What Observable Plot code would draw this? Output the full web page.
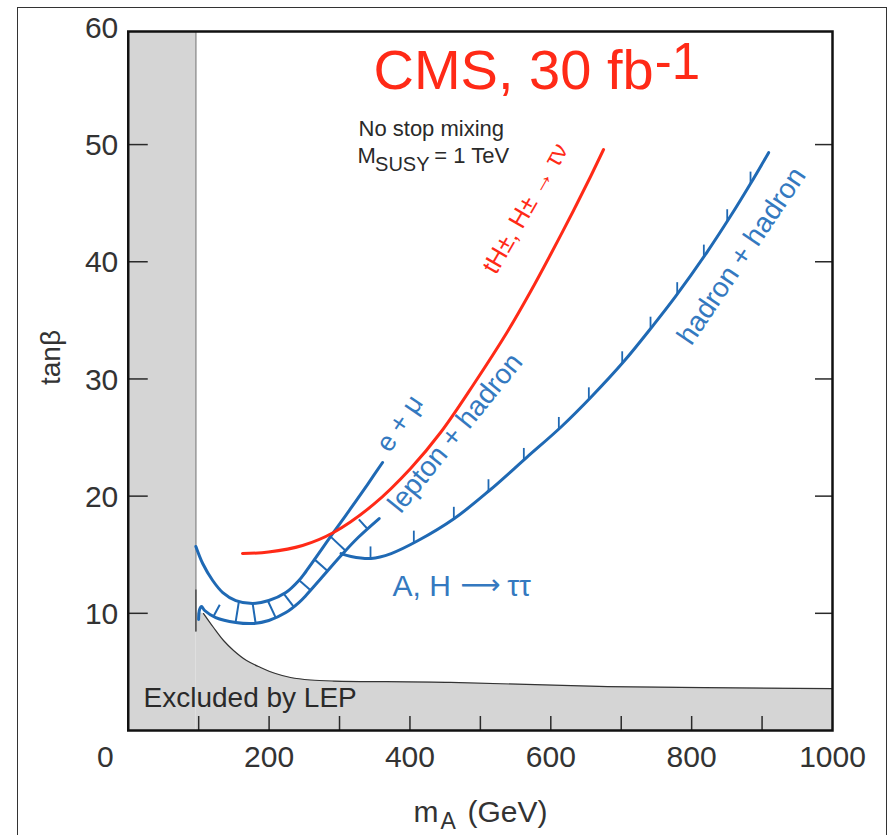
<!DOCTYPE html>
<html><head><meta charset="utf-8">
<script src="https://cdn.jsdelivr.net/npm/d3@7"></script>
<script src="https://cdn.jsdelivr.net/npm/@observablehq/plot@0.6"></script>
<style>
html,body{margin:0;padding:0;background:#fff;}
#wrap{position:relative;width:888px;height:835px;overflow:hidden;}
#chart{position:absolute;left:0;top:0;}
#border{position:absolute;left:17px;top:7px;width:868px;height:850px;border:1.5px solid #333;pointer-events:none;}
</style></head><body>
<div id="wrap"><div id="chart"></div><div id="border"></div></div>
<script>
// ---------- data ----------
const xTickLabels = [200, 400, 600, 800, 1000];
const xZeroLabel = [0];
const xTickMarks = [100, 200, 300, 400, 500, 600, 700, 800, 900];
const yTickLabels = [10, 20, 30, 40, 50, 60];
const yTickMarks = [10, 20, 30, 40, 50];

// LEP exclusion: vertical band limit in m_A and the lower tanβ boundary
const lepLimitM = 96;
const lepBandEdgeLow = 8.4;
const lepM  = [96, 106.9, 121.1, 135.3, 149.5, 168.0, 187.9, 209.1, 230.4, 258.8, 291.5, 457.6, 680.8, 1000];
const lepTb = [10.0, 9.98, 8.79, 7.68, 6.83, 5.97, 5.38, 4.86, 4.52, 4.31, 4.22, 4.10, 3.75, 3.57];

// e + mu
const eMuM  = [96, 105.7, 119.9, 134.2, 152.7, 176.9, 199.6, 223.8, 242.3, 252.3, 291.5, 315.9, 339.7, 361.1];
const eMuTb = [15.7, 14.25, 12.8, 11.77, 11.09, 10.84, 11.09, 11.77, 12.8, 13.57, 16.90, 18.95, 20.99, 22.87];

// lepton + hadron (with the small hook at its start)
const lepHadM  = [99.9, 101.3, 104.1, 108.5, 124.2, 152.7, 176.9, 199.6, 223.8, 242.3, 252.3, 273.6, 302.2, 326.4, 356.3];
const lepHadTb = [9.47, 10.32, 10.58, 10.24, 9.64, 9.22, 9.13, 9.39, 10.07, 10.92, 11.52, 12.97, 14.93, 16.47, 18.09];
const lepHadHatchM = [121.1, 152.4, 180.8, 209.2, 234.8, 258.9, 283.1, 308.6, 339.8];

// hadron + hadron
const hadHadM  = [302.2, 316.4, 344.8, 373.3, 411.7, 463.0, 512.8, 565.5, 615.3, 658.0, 703.6, 744.6, 777.2, 822.6, 855.3, 883.7, 909.3];
const hadHadTb = [15.10, 14.85, 14.68, 15.10, 16.21, 18.09, 20.48, 23.29, 25.94, 28.50, 31.48, 34.51, 37.04, 40.89, 43.90, 46.68, 49.31];
const hadHadHatchM = [344.0, 405.5, 462.3, 511.5, 561.7, 611.4, 654.0, 701.4, 741.6, 779.5, 817.3, 850.5, 883.6];

// tH±, H± -> τν
const chargedM  = [162.2, 199.2, 247.5, 291.5, 348.3, 400.9, 443.5, 490.3, 538.6, 571.3, 599.7, 632.3, 656.5, 674.9];
const chargedTb = [15.10, 15.23, 15.79, 16.90, 19.29, 22.36, 25.43, 29.53, 34.05, 37.46, 40.62, 44.38, 47.28, 49.58];

// ---------- layout ----------
const W = 888, H = 835, ML = 127.75, MR = 56, MT = 31, MB = 105;
const X_DOMAIN = [0, 1000], Y_DOMAIN = [0, 59.65];
const FONT = "'Liberation Sans', Arial, Helvetica, sans-serif";
const ARROW_FONT = "'DejaVu Sans', sans-serif";
const BLUE = "#1f69b4", BLUE_TXT = "#3479c0", RED = "#ff2a17", GRAY = "#d5d5d5", INK = "#2a2a2a";

const zip = (ms, ts) => ms.map((m, i) => ({m, t: ts[i]}));
const lep = zip(lepM, lepTb), eMu = zip(eMuM, eMuTb), lepHad = zip(lepHadM, lepHadTb),
      hadHad = zip(hadHadM, hadHadTb), charged = zip(chargedM, chargedTb);

const base = {width: W, height: H, marginLeft: ML, marginRight: MR, marginTop: MT, marginBottom: MB,
  x: {domain: X_DOMAIN, axis: null}, y: {domain: Y_DOMAIN, axis: null}};

// probe plot to obtain the library's own scales
const probe = Plot.plot({...base, marks: [Plot.line(lep, {x: "m", y: "t"})]});
const sx = probe.scale("x"), sy = probe.scale("y");
const kx = (W - ML - MR) / (X_DOMAIN[1] - X_DOMAIN[0]), ky = (H - MT - MB) / (Y_DOMAIN[1] - Y_DOMAIN[0]);
const fx = v => sx && sx.apply ? sx.apply(v) : ML + v * kx;
const fy = v => sy && sy.apply ? sy.apply(v) : H - MB - v * ky;
const ix = p => sx && sx.invert ? sx.invert(p) : (p - ML) / kx;
const iy = p => sy && sy.invert ? sy.invert(p) : (H - MB - p) / ky;

const pix = arr => arr.map(d => [fx(d.m), fy(d.t)]);
function yAtX(path, px) {
  for (let i = 0; i < path.length - 1; i++) {
    const [x0, y0] = path[i], [x1, y1] = path[i + 1];
    if (px >= x0 && px <= x1) return y0 + (px - x0) / (x1 - x0) * (y1 - y0);
  }
  return null;
}
function rayHit(bx, by, nx, ny, path, maxLen) {
  let best = Infinity;
  for (let i = 0; i < path.length - 1; i++) {
    const [ax, ay] = path[i], [cx, cy] = path[i + 1];
    const ex = cx - ax, ey = cy - ay, den = nx * ey - ny * ex;
    if (Math.abs(den) < 1e-9) continue;
    const wx = ax - bx, wy = ay - by;
    const u = (wx * ey - wy * ex) / den, v = (wx * ny - wy * nx) / den;
    if (u > 0 && v >= 0 && v <= 1 && u < best) best = u;
  }
  return best <= maxLen ? best : null;
}

// ladder hatching on lepton + hadron (perpendicular, reaching e+μ when close)
const lhPath = pix(lepHad.slice(3)), emPath = pix(eMu);
const ladder = lepHadHatchM.map(m => {
  const bx = fx(m), by = yAtX(lhPath, bx);
  const ya = yAtX(lhPath, bx - 4), yb = yAtX(lhPath, bx + 4);
  let tx = 8, ty = (yb ?? by) - (ya ?? by); const L = Math.hypot(tx, ty); tx /= L; ty /= L;
  const nx = ty, ny = -tx;
  const hit = rayHit(bx, by, nx, ny, emPath, 24);
  const len = hit ?? 13;
  return {x1: ix(bx), y1: iy(by), x2: ix(bx + nx * len), y2: iy(by + ny * len)};
});
// vertical hatching on hadron + hadron
const hhPath = pix(hadHad);
const hhHatch = hadHadHatchM.map(m => {
  const bx = fx(m), by = yAtX(hhPath, bx);
  return {x1: ix(bx), y1: iy(by), x2: ix(bx), y2: iy(by - 12)};
});

const xTickLen = iy(fy(0) - 14), yTickLenL = ix(fx(0) + 20), yTickLenR = ix(fx(1000) - 17);

const txt = (s, o) => Plot.text([s], {fontFamily: FONT, ...o});

const chart = Plot.plot({
  ...base,
  style: {fontFamily: FONT, background: "transparent", overflow: "visible"},
  marks: [
    // LEP excluded regions
    Plot.area(lep, {x1: "m", y1: 0, y2: "t", fill: GRAY, curve: "catmull-rom"}),
    Plot.rect([lepLimitM], {x1: X_DOMAIN[0], x2: d => d, y1: Y_DOMAIN[0], y2: Y_DOMAIN[1], fill: GRAY}),
    Plot.ruleX([lepLimitM], {y1: lepBandEdgeLow, y2: Y_DOMAIN[1], stroke: "#9b9b9b", strokeWidth: 1.6}),
    Plot.ruleX([lepLimitM], {y1: lepBandEdgeLow, y2: lepTb[0] + 2, stroke: "#555", strokeWidth: 1.6}),
    Plot.line(lep.slice(1), {x: "m", y: "t", stroke: "#333", strokeWidth: 1.2, curve: "catmull-rom"}),
    // blue A,H -> ττ curves
    Plot.link(ladder, {x1: "x1", y1: "y1", x2: "x2", y2: "y2", stroke: BLUE, strokeWidth: 2}),
    Plot.link(hhHatch, {x1: "x1", y1: "y1", x2: "x2", y2: "y2", stroke: BLUE, strokeWidth: 1.8}),
    Plot.line(eMu, {x: "m", y: "t", stroke: BLUE, strokeWidth: 3, curve: "catmull-rom"}),
    Plot.line(lepHad, {x: "m", y: "t", stroke: BLUE, strokeWidth: 3, curve: "catmull-rom"}),
    Plot.line(hadHad, {x: "m", y: "t", stroke: BLUE, strokeWidth: 3, curve: "catmull-rom"}),
    // red charged Higgs curve
    Plot.line(charged, {x: "m", y: "t", stroke: RED, strokeWidth: 3, curve: "catmull-rom"}),
    // inward ticks
    Plot.ruleX(xTickMarks, {y1: Y_DOMAIN[0], y2: xTickLen, stroke: INK, strokeWidth: 1.5}),
    Plot.ruleY(yTickMarks, {x1: X_DOMAIN[0], x2: yTickLenL, stroke: INK, strokeWidth: 1.5}),
    Plot.ruleY(yTickMarks, {x1: yTickLenR, x2: X_DOMAIN[1], stroke: INK, strokeWidth: 1.5}),
    Plot.frame({stroke: "#111", strokeWidth: 2.5}),
    // tick labels
    Plot.text(xTickLabels, {x: d => d, y: Y_DOMAIN[0], text: d => String(d), dy: 27, fontSize: 30, fill: "#333", fontFamily: FONT}),
    Plot.text(xZeroLabel, {x: d => d, y: Y_DOMAIN[0], text: d => String(d), dy: 27, dx: -23, fontSize: 30, fill: "#333", fontFamily: FONT}),
    Plot.text(yTickLabels, {x: X_DOMAIN[0], y: d => d, text: d => String(d), dx: -10, dy: 1, textAnchor: "end", fontSize: 30, fill: "#333", fontFamily: FONT}),
    // axis titles
    txt("m", {x: 405.1, y: -6.95, textAnchor: "start", fontSize: 30, fill: "#333"}),
    txt("A", {x: 443.4, y: -7.75, textAnchor: "start", fontSize: 23, fill: "#333"}),
    txt("(GeV)", {x: 481.7, y: -6.95, textAnchor: "start", fontSize: 30, fill: "#333"}),
    txt("tanβ", {x: -109, y: 31.83, rotate: -90, fontSize: 28, fill: "#333"}),
    // title and notes
    txt("CMS, 30 fb", {x: 348.2, y: 56.3, textAnchor: "start", fontSize: 56, fill: RED}),
    txt("-1", {x: 747.6, y: 57.0, textAnchor: "start", fontSize: 51, fill: RED}),
    txt("No stop mixing", {x: 327, y: 51.37, textAnchor: "start", fontSize: 22, fill: INK}),
    txt("M", {x: 325.6, y: 49.07, textAnchor: "start", fontSize: 22, fill: INK}),
    txt("SUSY", {x: 350.5, y: 48.25, textAnchor: "start", fontSize: 20, fill: INK}),
    txt("= 1 TeV", {x: 434.5, y: 49.07, textAnchor: "start", fontSize: 22, fill: INK}),
    txt("Excluded by LEP", {x: 21.7, y: 2.73, textAnchor: "start", fontSize: 28, fill: INK}),
    // curve labels
    txt("e + μ", {x: 385.4, y: 26.2, rotate: -56, fontSize: 27, fill: BLUE_TXT}),
    txt("lepton + hadron", {x: 464.5, y: 25.4, rotate: -51, fontSize: 28, fill: BLUE_TXT}),
    txt("hadron + hadron", {x: 870.8, y: 40.5, rotate: -56, fontSize: 28, fill: BLUE_TXT}),
    txt("tH±, H± → τν", {x: 564.1, y: 44.55, rotate: -60, fontSize: 25, fill: RED}),
    txt("A, H", {x: 375.2, y: 12.29, textAnchor: "start", fontSize: 30, fill: BLUE_TXT}),
    txt("⟶", {x: 500, y: 12.45, fontSize: 28, fill: BLUE_TXT, fontFamily: ARROW_FONT}),
    txt("ττ", {x: 555, y: 12.29, fontSize: 30, fill: BLUE_TXT})
  ]
});
document.getElementById("chart").appendChild(chart);
</script>
</body></html>
